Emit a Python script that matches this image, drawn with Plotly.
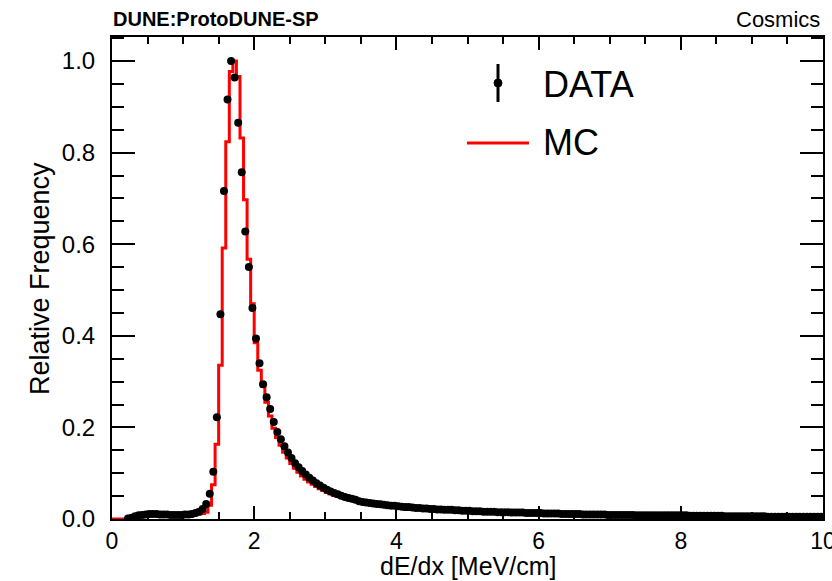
import numpy as np
import plotly.graph_objects as go

# ---- binning (ROOT style histogram, 200 bins from 0 to 10 MeV/cm) ----
x_min, x_max, n_bins = 0.0, 10.0, 200

# ---- DATA: relative frequency per bin (None = empty bin) ----
data_vals = [
    None, None, None, None, 0.001, 0.003, 0.006, 0.008, 0.009, 0.010,
    0.011, 0.011, 0.011, 0.010, 0.010, 0.010, 0.009, 0.009, 0.009, 0.009,
    0.010, 0.010, 0.011, 0.013, 0.016, 0.022, 0.033, 0.055, 0.103, 0.222,
    0.447, 0.716, 0.916, 1.000, 0.964, 0.865, 0.757, 0.628, 0.550, 0.461,
    0.394, 0.340, 0.294, 0.266, 0.240, 0.212, 0.190, 0.174, 0.159, 0.145,
    0.133, 0.122, 0.113, 0.105, 0.097, 0.090, 0.084, 0.078, 0.073, 0.068,
    0.064, 0.060, 0.057, 0.054, 0.051, 0.048, 0.046, 0.044, 0.042, 0.039,
    0.037, 0.036, 0.035, 0.034, 0.033, 0.032, 0.031, 0.030, 0.029, 0.029,
    0.028, 0.027, 0.026, 0.026, 0.025, 0.024, 0.024, 0.023, 0.023, 0.022,
    0.022, 0.021, 0.021, 0.020, 0.020, 0.020, 0.019, 0.019, 0.018, 0.018,
    0.018, 0.017, 0.017, 0.017, 0.016, 0.016, 0.016, 0.016, 0.015, 0.015,
    0.015, 0.015, 0.014, 0.014, 0.014, 0.014, 0.013, 0.013, 0.013, 0.013,
    0.013, 0.012, 0.012, 0.012, 0.012, 0.012, 0.011, 0.011, 0.011, 0.011,
    0.011, 0.011, 0.010, 0.010, 0.010, 0.010, 0.010, 0.010, 0.010, 0.009,
    0.009, 0.009, 0.009, 0.009, 0.009, 0.009, 0.009, 0.008, 0.008, 0.008,
    0.008, 0.008, 0.008, 0.008, 0.008, 0.008, 0.008, 0.008, 0.008, 0.008,
    0.008, 0.008, 0.007, 0.007, 0.007, 0.007, 0.007, 0.007, 0.007, 0.007,
    0.007, 0.007, 0.006, 0.006, 0.006, 0.006, 0.006, 0.006, 0.006, 0.006,
    0.006, 0.006, 0.006, 0.006, 0.005, 0.005, 0.005, 0.005, 0.005, 0.005,
    0.005, 0.005, 0.005, 0.005, 0.005, 0.005, 0.005, 0.005, 0.005, 0.005,
]

# ---- MC: relative frequency per bin ----
mc_vals = [
    0.000, 0.000, 0.000, 0.000, 0.000, 0.001, 0.003, 0.005, 0.007, 0.008,
    0.009, 0.009, 0.009, 0.009, 0.009, 0.008, 0.008, 0.008, 0.008, 0.008,
    0.009, 0.009, 0.009, 0.010, 0.011, 0.012, 0.015, 0.030, 0.075, 0.163,
    0.336, 0.592, 0.824, 0.977, 1.000, 0.966, 0.832, 0.697, 0.567, 0.470,
    0.385, 0.325, 0.290, 0.255, 0.225, 0.198, 0.178, 0.161, 0.146, 0.133,
    0.121, 0.111, 0.102, 0.094, 0.087, 0.081, 0.076, 0.071, 0.066, 0.062,
    0.058, 0.055, 0.052, 0.049, 0.047, 0.045, 0.043, 0.041, 0.039, 0.037,
    0.035, 0.034, 0.033, 0.032, 0.031, 0.030, 0.029, 0.028, 0.027, 0.027,
    0.026, 0.025, 0.025, 0.024, 0.023, 0.023, 0.022, 0.022, 0.021, 0.021,
    0.021, 0.020, 0.020, 0.020, 0.019, 0.019, 0.019, 0.018, 0.018, 0.018,
    0.017, 0.017, 0.017, 0.016, 0.016, 0.016, 0.015, 0.015, 0.015, 0.015,
    0.014, 0.014, 0.014, 0.014, 0.013, 0.013, 0.013, 0.013, 0.013, 0.012,
    0.012, 0.012, 0.012, 0.011, 0.011, 0.011, 0.011, 0.011, 0.010, 0.010,
    0.010, 0.010, 0.010, 0.010, 0.009, 0.009, 0.009, 0.009, 0.009, 0.009,
    0.009, 0.009, 0.008, 0.008, 0.008, 0.008, 0.008, 0.008, 0.008, 0.008,
    0.008, 0.008, 0.007, 0.007, 0.007, 0.007, 0.007, 0.007, 0.007, 0.007,
    0.007, 0.007, 0.007, 0.007, 0.007, 0.006, 0.006, 0.006, 0.006, 0.006,
    0.006, 0.006, 0.006, 0.006, 0.006, 0.006, 0.006, 0.005, 0.005, 0.005,
    0.005, 0.005, 0.005, 0.005, 0.005, 0.005, 0.005, 0.005, 0.005, 0.005,
    0.005, 0.005, 0.005, 0.005, 0.005, 0.004, 0.004, 0.004, 0.004, 0.004,
]

x_tick_vals = [0, 2, 4, 6, 8, 10]
x_tick_text = ["0", "2", "4", "6", "8", "10"]
y_tick_vals = [0.0, 0.2, 0.4, 0.6, 0.8, 1.0]
y_tick_text = ["0.0", "0.2", "0.4", "0.6", "0.8", "1.0"]

edges = np.linspace(x_min, x_max, n_bins + 1)
centers = 0.5 * (edges[:-1] + edges[1:])

FONT = "Liberation Sans, Arial, sans-serif"

fig = go.Figure()

# MC step histogram
mc_x = list(edges)
mc_y = list(mc_vals) + [mc_vals[-1]]
fig.add_trace(go.Scatter(
    x=mc_x, y=mc_y, mode="lines", line_shape="hv",
    line=dict(color="#ff0000", width=3), name="MC", showlegend=False,
))

# DATA points
fig.add_trace(go.Scatter(
    x=centers, y=data_vals, mode="markers",
    marker=dict(color="black", size=8, symbol="circle"),
    name="DATA", showlegend=False,
))

W, H = 832, 581
L, R, T, B = 112, 9, 37, 62

fig.update_layout(
    width=W, height=H,
    margin=dict(l=L, r=R, t=T, b=B, pad=0, autoexpand=False),
    paper_bgcolor="white", plot_bgcolor="white",
    font=dict(family=FONT, color="black"),
    showlegend=False,
)

fig.update_xaxes(
    range=[x_min, x_max], automargin=False,
    showgrid=False, zeroline=False,
    showline=True, linecolor="black", linewidth=2, mirror="allticks",
    ticks="inside", ticklen=13, tickwidth=2, tickcolor="black",
    tickvals=x_tick_vals, ticktext=x_tick_text,
    tickfont=dict(size=23, family=FONT),
    ticklabelstandoff=0, ticklabeloverflow="allow",
    minor=dict(dtick=0.5, ticks="inside", ticklen=7, tickwidth=1.5, tickcolor="black", showgrid=False),
)
fig.update_yaxes(
    range=[0, 1.0525], automargin=False,
    showgrid=False, zeroline=False,
    showline=True, linecolor="black", linewidth=2, mirror="allticks",
    ticks="inside", ticklen=23, tickwidth=2, tickcolor="black",
    tickvals=y_tick_vals, ticktext=y_tick_text,
    tickfont=dict(size=24, family=FONT),
    ticklabelstandoff=10, ticklabeloverflow="allow",
    minor=dict(dtick=0.05, ticks="inside", ticklen=12, tickwidth=1.5, tickcolor="black", showgrid=False),
)

# plot-area helpers (paper coordinates) for decorations
pw, ph = W - L - R, H - T - B
def px(xpix):
    return (xpix - L) / pw
def py(ypix):
    return (H - B - ypix) / ph

# Axis titles
fig.add_annotation(text="dE/dx [MeV/cm]", xref="paper", yref="paper",
                   x=px(468), y=py(566), xanchor="center", yanchor="middle",
                   showarrow=False, font=dict(size=25, family=FONT, color="black"))
fig.add_annotation(text="Relative Frequency", xref="paper", yref="paper",
                   x=px(40), y=py(279), xanchor="center", yanchor="middle",
                   textangle=-90, showarrow=False,
                   font=dict(size=27, family=FONT, color="black"))

# Header texts
fig.add_annotation(text="<b>DUNE:ProtoDUNE-SP</b>", xref="paper", yref="paper",
                   x=px(111), y=py(19), xanchor="left", yanchor="middle",
                   showarrow=False, font=dict(size=20, family=FONT, color="black"))
fig.add_annotation(text="Cosmics", xref="paper", yref="paper",
                   x=px(822), y=py(20), xanchor="right", yanchor="middle",
                   showarrow=False, font=dict(size=22, family=FONT, color="black"))

# Legend (drawn manually, ROOT style)
fig.add_shape(type="line", xref="paper", yref="paper",
              x0=px(498), x1=px(498), y0=py(64), y1=py(102),
              line=dict(color="black", width=3))
fig.add_shape(type="circle", xref="paper", yref="paper",
              x0=px(494), x1=px(502), y0=py(79), y1=py(87),
              line=dict(color="black", width=1), fillcolor="black")
fig.add_shape(type="line", xref="paper", yref="paper",
              x0=px(467), x1=px(529), y0=py(143), y1=py(143),
              line=dict(color="#ff0000", width=3))
fig.add_annotation(text="DATA", xref="paper", yref="paper",
                   x=px(541), y=py(84), xanchor="left", yanchor="middle",
                   showarrow=False, font=dict(size=36, family=FONT, color="black"))
fig.add_annotation(text="MC", xref="paper", yref="paper",
                   x=px(541), y=py(142), xanchor="left", yanchor="middle",
                   showarrow=False, font=dict(size=36, family=FONT, color="black"))

fig.write_html("out.html")
